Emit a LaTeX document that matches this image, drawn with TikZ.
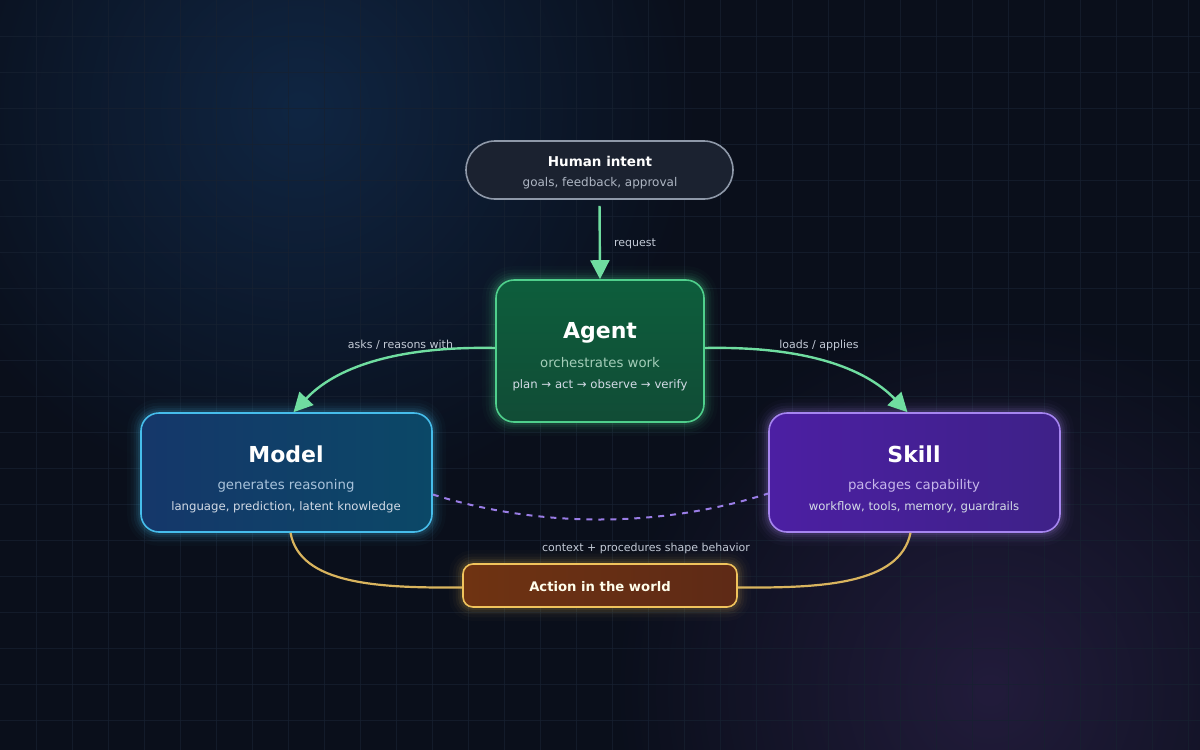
\documentclass[tikz,border=0pt]{standalone}
\usepackage{fontspec}
\setmainfont{DejaVu Sans}
\usetikzlibrary{arrows.meta,fadings}
\pgfdeclarelayer{back}\pgfdeclarelayer{glow}
\pgfsetlayers{back,glow,main}
\definecolor{bgc}{HTML}{0A0F1B}
\definecolor{bgblue}{HTML}{112A4A}
\definecolor{bgpurple}{HTML}{2A2046}
\definecolor{gridc}{HTML}{172131}
\definecolor{greenl}{HTML}{6FDDA0}
\definecolor{goldl}{HTML}{D9B45E}
\definecolor{dashp}{HTML}{9A7DE6}
\definecolor{lbl}{HTML}{C3CAD6}
\definecolor{agentbd}{HTML}{4FD08C}
\definecolor{agentA}{HTML}{0D5E3C}
\definecolor{agentB}{HTML}{114C36}
\definecolor{modelbd}{HTML}{46BDEB}
\definecolor{modelA}{HTML}{15376A}
\definecolor{modelB}{HTML}{0B4867}
\definecolor{skillbd}{HTML}{A685F0}
\definecolor{skillA}{HTML}{4C1FA3}
\definecolor{skillB}{HTML}{3E2188}
\definecolor{actbd}{HTML}{F0C35C}
\definecolor{actA}{HTML}{6F3312}
\definecolor{actB}{HTML}{5E2A16}
\definecolor{humbd}{HTML}{8E98A8}
\definecolor{humfill}{HTML}{1B2230}
\definecolor{agentsub}{HTML}{A3CDB8}
\definecolor{modelsub}{HTML}{A9C3DB}
\definecolor{skillsub}{HTML}{C6B6EA}
\definecolor{detail}{HTML}{D3DBE6}
\definecolor{humsub}{HTML}{AEB6C3}
\tikzfading[name=glowfade, inner color=transparent!0, outer color=transparent!100]
\newcommand\ttlfont{\fontsize{22}{26}\selectfont\bfseries}
\newcommand\subfont{\fontsize{13.3}{16}\selectfont}
\newcommand\detfont{\fontsize{11.7}{14}\selectfont}
\newcommand\lblfont{\fontsize{11}{13}\selectfont}
\begin{document}
\begin{tikzpicture}[x=1pt,y=-1pt,
  card/.style={line width=1.6pt, inner sep=0pt, rounded corners=18pt},
  txt/.style={anchor=base, inner sep=0pt, text=white},
  elabel/.style={anchor=base, inner sep=0pt, text=lbl, font=\lblfont},
  greenarrow/.style={draw=greenl, line width=2.4pt, -{Triangle[length=19pt,width=19pt]}},
  goldline/.style={draw=goldl, line width=2.2pt},
  dashline/.style={draw=dashp, line width=2pt, dash pattern=on 6pt off 6pt}]
\useasboundingbox (0,0) rectangle (1200,750);
\begin{pgfonlayer}{back}
  \fill[bgc] (0,0) rectangle (1200,750);
  \begin{scope}
    \clip (0,0) rectangle (1200,750);
    \fill[bgblue, path fading=glowfade, opacity=0.85] (300,110) circle (400);
    \fill[bgpurple, path fading=glowfade, opacity=0.75] (990,690) circle (380);
  \end{scope}
  \foreach \i in {1,...,33} \draw[gridc, line width=0.8pt, opacity=0.7] (\i*36,0) -- (\i*36,750);
  \foreach \i in {1,...,20} \draw[gridc, line width=0.8pt, opacity=0.7] (0,\i*36) -- (1200,\i*36);
\end{pgfonlayer}

% nodes
\node[card, draw=humbd, fill=humfill, rounded corners=29pt, minimum width=267pt, minimum height=58pt] (human) at (599.5,170) {};
\node[card, draw=agentbd, top color=agentA, bottom color=agentB, minimum width=208pt, minimum height=142pt] (agent) at (600,351) {};
\node[card, draw=modelbd, left color=modelA, right color=modelB, minimum width=291pt, minimum height=119pt] (model) at (286.5,472.5) {};
\node[card, draw=skillbd, left color=skillA, right color=skillB, minimum width=291pt, minimum height=119pt] (skill) at (914.5,472.5) {};
\node[card, draw=actbd, left color=actA, right color=actB, rounded corners=10pt, minimum width=274pt, minimum height=43pt] (action) at (600,585.5) {};

\begin{pgfonlayer}{glow}
  \foreach \w/\o in {26/0.025,19/0.04,13/0.06,8/0.08,4/0.1} {
    \draw[agentbd, line width=\w pt, opacity=\o, rounded corners=18pt] (agent.north west) rectangle (agent.south east);
    \draw[modelbd, line width=\w pt, opacity=\o, rounded corners=18pt] (model.north west) rectangle (model.south east);
    \draw[skillbd, line width=\w pt, opacity=\o, rounded corners=18pt] (skill.north west) rectangle (skill.south east);
    \draw[actbd, line width=\w pt, opacity=0.8*\o, rounded corners=10pt] (action.north west) rectangle (action.south east);
  }
\end{pgfonlayer}

% texts
\node[txt, font=\fontsize{13.5}{16}\selectfont\bfseries] (humanT) at (600,166) {Human intent};
\node[txt, text=humsub, font=\fontsize{12}{14}\selectfont] (humanS) at (600,186) {goals, feedback, approval};
\node[txt, font=\ttlfont] (agentT) at (600,338) {Agent};
\node[txt, text=agentsub, font=\subfont] (agentS) at (600,367) {orchestrates work};
\node[txt, text=detail, font=\detfont] (agentD) at (600,388) {plan → act → observe → verify};
\node[txt, font=\ttlfont] (modelT) at (286,462) {Model};
\node[txt, text=modelsub, font=\subfont] (modelS) at (286,489) {generates reasoning};
\node[txt, text=detail, font=\detfont] (modelD) at (286,510) {language, prediction, latent knowledge};
\node[txt, font=\ttlfont] (skillT) at (914,462) {Skill};
\node[txt, text=skillsub, font=\subfont] (skillS) at (914,489) {packages capability};
\node[txt, text=detail, font=\detfont] (skillD) at (914,510) {workflow, tools, memory, guardrails};
\node[txt, text=white!92!yellow, font=\fontsize{13.2}{16}\selectfont\bfseries] (actionT) at (600,591) {Action in the world};

% connectors
\draw[greenarrow, shorten <=6pt] (human.south) -- (agent.north);
\draw[greenarrow] ([yshift=3pt]agent.west) .. controls (395,346) and (335,368) .. ([xshift=7pt]model.north);
\draw[greenarrow] ([yshift=3pt]agent.east) .. controls (805,346) and (865,368) .. ([xshift=-7pt]skill.north);
\draw[dashline] ([yshift=-22pt]model.east) .. controls (540,528) and (660,528) .. ([yshift=-21pt]skill.west);
\draw[goldline] ([xshift=4pt]model.south) .. controls (300,585) and (380,588) .. ([yshift=-2pt]action.west);
\draw[goldline] ([xshift=-4pt]skill.south) .. controls (900,585) and (820,588) .. ([yshift=-2pt]action.east);

% edge labels
\node[elabel] (lreq) at (635,246) {request};
\node[elabel] (lasks) at (400.5,348) {asks / reasons with};
\node[elabel] (lloads) at (819,348) {loads / applies};
\node[elabel] (lctx) at (646,551) {context + procedures shape behavior};
\end{tikzpicture}
\end{document}
